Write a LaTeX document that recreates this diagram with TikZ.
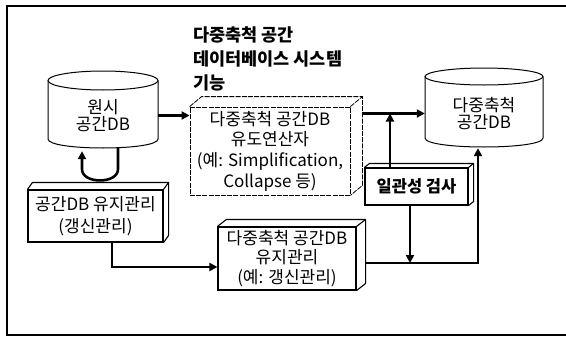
\documentclass[tikz,border=0pt]{standalone}
\usepackage{fontspec}
\setmainfont{Noto Sans CJK KR}
\usetikzlibrary{arrows.meta}
\newcommand\depthbox[4]{%
  \draw[#4] (#1.north west) -- ([shift={(#2,-#3)}]#1.north west) -- ([shift={(#2,-#3)}]#1.north east) -- ([shift={(#2,-#3)}]#1.south east) -- (#1.south east);
  \draw[#4] (#1.north east) -- ([shift={(#2,-#3)}]#1.north east);}
\begin{document}
\begin{tikzpicture}[x=1pt,y=-1pt,
  arr/.style={line width=2.6pt,-{Triangle[length=8pt,width=8pt]}},
  cyl/.style={line width=1pt},
  txt/.style={align=center,inner sep=0pt,font=\fontsize{17}{20}\selectfont},
  boxsolid/.style={line width=1.1pt},
  boxdash/.style={line width=0.8pt,dash pattern=on 5pt off 1.2pt}]
\useasboundingbox (0,0) rectangle (566,343);
% frame
\draw[line width=1.1pt] (566,6) -- (7,6) -- (7,335) -- (566,335);
% title
\node[align=left,anchor=west,inner sep=0pt,font=\fontsize{17.5}{24}\selectfont\bfseries] (title) at (193,59) {다중축척 공간\\데이터베이스 시스템\\기능};
% left cylinder
\draw[cyl] (48,80.5) -- (48,139) .. controls (48,151) and (158,151) .. (158,139) -- (158,80.5);
\draw[cyl] (103,80.5) ellipse [x radius=55, y radius=9.5];
\node[txt,font=\fontsize{17}{17}\selectfont,minimum width=110pt,minimum height=65pt] (src) at (103,115.5) {원시\\공간DB};
% right cylinder
\draw[cyl] (425,76.5) -- (425,138) .. controls (425,150) and (543,150) .. (543,138) -- (543,76.5);
\draw[cyl] (484,76.5) ellipse [x radius=59, y radius=8.5];
\node[txt,font=\fontsize{17}{16.5}\selectfont,minimum width=118pt,minimum height=69pt] (dst) at (484,113.5) {다중축척\\공간DB};
% box 1
\node[txt,draw,boxdash,font=\fontsize{17}{20.7}\selectfont,minimum width=160pt,minimum height=88pt] (b1) at (270,151) {다중축척 공간DB\\유도연산자\\(예: Simplification,\\Collapse 등)};
\depthbox{b1}{12}{10}{boxdash}
% left lower box
\node[txt,draw,boxsolid,font=\fontsize{17}{22}\selectfont,minimum width=135pt,minimum height=52pt] (gb) at (95.5,216) {공간DB 유지관리\\(갱신관리)};
\depthbox{gb}{5}{7}{boxsolid}
% lower box 2
\node[txt,draw,boxsolid,font=\fontsize{17}{19.5}\selectfont,minimum width=138pt,minimum height=63pt] (b2) at (287,258.5) {다중축척 공간DB\\유지관리\\(예: 갱신관리)};
\depthbox{b2}{9}{7}{boxsolid}
% consistency check
\node[txt,draw,boxsolid,font=\fontsize{16.5}{18}\selectfont\bfseries,minimum width=103pt,minimum height=37pt] (chk) at (416.5,186.5) {일관성 검사};
\depthbox{chk}{5}{4}{boxsolid}
% connectors
\draw[arr] (src.east) -- (src.east -| b1.west);
\coordinate (b1r) at ([xshift=12pt]b1.east);
\draw[arr] (dst.west -| b1r) -- (dst.west);
\draw[arr] ([xshift=-26.5pt]chk.north) -- ([xshift=-26.5pt]chk.north |- dst.west);
\coordinate (b2r) at ([xshift=9pt,yshift=-4.5pt]b2.east);
\coordinate (cjoin) at ([xshift=-6pt]dst.south);
\draw[arr] (b2r) -| (cjoin);
\draw[arr] ([xshift=-6.5pt]chk.south) -- ([xshift=-6.5pt]chk.south |- b2r);
\draw[arr] ([xshift=16.5pt]gb.south) |- ([yshift=-8.5pt]b2.west);
\coordinate (lr) at ([xshift=15pt,yshift=1pt]src.south);
\draw[arr] (lr) -- ([yshift=-22pt]lr) .. controls ([yshift=-37pt]lr) and ([xshift=-36pt,yshift=-37pt]lr) .. ([xshift=-36pt,yshift=-22pt]lr) -- ([xshift=-36pt,yshift=-4pt]lr);
\end{tikzpicture}
\end{document}
